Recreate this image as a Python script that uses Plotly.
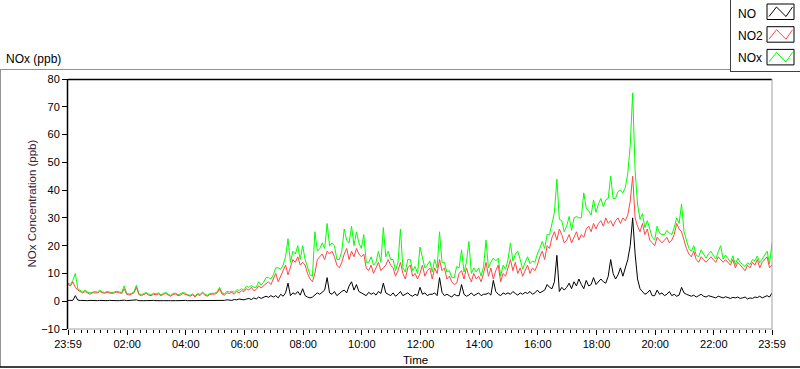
import plotly.graph_objects as go

# ---------------- data (5-minute readings, 23:59 -> 23:59) ----------------
no2 = [
    6, 5.5, 7, 5, 4, 3.5, 3, 3.5, 3, 2.5, 3, 3,
    3, 3.5, 3, 2.8, 3.2, 3, 2.8, 3, 3.3, 3, 2.8, 4.5,
    2.5, 2.2, 2.5, 3, 5, 2.4, 2, 2.5, 2.8, 2.2, 2, 2.5,
    2.3, 2.6, 2, 2.5, 2.8, 2.2, 1.8, 2.4, 2.6, 2, 2.2, 2.8,
    2.5, 2, 1.8, 2.3, 1.5, 2.5, 2, 3, 2.2, 1.8, 2.4, 2.6,
    2.5, 3, 4.5, 2.6, 2.2, 3, 2.8, 3.2, 2.5, 3.5, 3, 3.8,
    3.5, 4.5, 4, 5, 3.8, 4.2, 5.5, 4.8, 5.5, 6.5, 7, 6,
    8, 10, 7, 9, 11, 13, 9.5, 12, 15, 14, 16, 13,
    14, 13, 10, 8, 7, 10, 15, 16, 17, 15, 18, 17,
    18, 16, 13, 12, 14, 17, 19, 15, 18, 16, 19, 17,
    16, 17, 12, 11, 13, 10, 12, 14, 11, 12, 13, 15,
    13, 12, 9, 11, 14, 10, 8, 12, 13, 9, 10, 8,
    10, 13, 9, 11, 12, 8, 12, 10, 15, 11, 12, 8,
    9, 7, 6, 6.5, 10, 11, 8, 12, 9, 7, 10, 8,
    9, 7, 10, 14, 9, 12, 8, 11, 13, 7, 10, 9,
    12, 15, 11, 14, 10, 12, 9, 11, 13, 10, 12, 11,
    13, 16, 18, 15, 20, 19, 23, 25, 22, 26, 24, 21,
    22, 24, 21, 23, 25, 22, 24, 23, 26, 27, 25, 28,
    26, 28, 29, 27, 30, 28, 29, 27, 29, 30, 28, 30,
    29, 31, 36, 45, 30, 27, 25, 28, 24, 26, 22, 21,
    20, 23, 22, 21, 22, 23, 21, 22, 24, 28, 26, 25,
    22, 19, 17, 16, 18, 15, 14, 16, 15, 14, 15, 16,
    15, 14, 16, 15, 14, 15, 14, 13, 15, 12, 14, 13,
    12, 11, 13, 12, 14, 13, 15, 12, 14, 15, 16, 12,
    13,
]

no = [
    0.3, 0.4, 0.3, 2.0, 0.4, 0.3, 0.2, 0.3, 0.2, 0.3, 0.2, 0.3,
    0.2, 0.3, 0.2, 0.3, 0.2, 0.3, 0.2, 0.3, 0.2, 0.2, 0.3, 0.4,
    0.2, 0.3, 0.2, 0.3, 0.5, 0.2, 0.3, 0.2, 0.2, 0.3, 0.2, 0.3,
    0.2, 0.3, 0.2, 0.2, 0.3, 0.2, 0.2, 0.3, 0.2, 0.2, 0.3, 0.2,
    0.3, 0.2, 0.2, 0.3, 0.2, 0.2, 0.3, 0.2, 0.3, 0.2, 0.3, 0.2,
    0.3, 0.2, 0.4, 0.3, 0.3, 0.5, 0.4, 0.3, 0.6, 0.5, 0.8, 0.6,
    0.5, 0.8, 1.0, 0.6, 1.2, 0.8, 1.5, 1.0, 1.3, 1.8, 1.4, 2.0,
    1.5, 2.0, 1.2, 2.5, 1.8, 3.0, 6.5, 2.0, 3.0, 2.5, 3.5, 2.2,
    4.5, 2.0, 1.5, 1.2, 1.5, 2.2, 3.0, 2.5, 3.2, 4.0, 8.5, 3.0,
    2.5, 3.5, 2.0, 2.8, 3.5, 4.0, 3.0, 5.5, 7.0, 4.0, 6.0, 3.5,
    3.0, 2.5, 2.0, 3.2, 2.5, 3.0, 2.2, 3.5, 2.8, 6.5, 3.0, 2.5,
    2.0, 3.0, 1.8, 2.5, 3.5, 2.0, 2.5, 3.0, 2.2, 1.8, 2.5, 2.0,
    5.0, 2.5, 3.0, 2.0, 2.5, 2.5, 3.0, 2.0, 8.5, 3.2, 2.0, 2.5,
    2.0, 1.5, 2.5, 2.0, 2.0, 6.0, 2.5, 1.8, 2.2, 3.0, 2.0, 2.5,
    3.0, 2.0, 2.5, 2.5, 3.0, 2.2, 7.5, 3.5, 2.5, 2.0, 3.0, 2.5,
    3.0, 2.5, 3.5, 2.8, 2.2, 3.0, 2.5, 3.2, 2.8, 3.5, 2.5, 3.0,
    4.0, 3.0, 3.5, 4.0, 6.0, 5.0, 4.5, 7.0, 16.5, 3.5, 5.0, 4.0,
    5.0, 6.5, 4.5, 7.0, 5.5, 8.0, 6.0, 4.5, 7.5, 5.5, 6.0, 8.5,
    6.0, 7.0, 8.0, 7.0, 6.5, 9.0, 15.0, 10.0, 8.0, 9.5, 12.0, 9.0,
    12.0, 15.0, 20.0, 30.0, 17.0, 8.0, 4.5, 3.5, 2.5, 3.0, 4.0, 2.0,
    2.0, 4.0, 2.5, 3.0, 2.0, 2.5, 3.5, 2.0, 2.5, 1.8, 2.2, 5.0,
    3.0, 2.5, 2.0, 1.8, 2.2, 1.5, 2.0, 2.5, 1.8, 1.5, 2.0, 1.8,
    1.5, 1.2, 1.8, 1.5, 1.2, 1.6, 1.3, 1.0, 1.4, 1.2, 1.5, 1.0,
    1.2, 1.5, 0.8, 1.2, 1.0, 1.5, 1.3, 1.8, 1.2, 1.6, 2.0, 1.5,
    3.0,
]

nox = [
    6.5, 6, 7.5, 10, 4.5, 4, 3.3, 4, 3.3, 3, 3.3, 3.5,
    3.3, 4, 3.3, 3.2, 3.5, 3.4, 3.1, 3.4, 3.6, 3.3, 3.2, 5.5,
    2.8, 2.6, 2.8, 3.4, 5.8, 2.7, 2.4, 2.8, 3.1, 2.6, 2.3, 2.9,
    2.6, 3, 2.3, 2.8, 3.2, 2.5, 2.1, 2.8, 2.9, 2.3, 2.6, 3.1,
    2.9, 2.3, 2.1, 2.7, 1.8, 2.8, 2.4, 3.3, 2.6, 2.1, 2.8, 2.9,
    2.9, 3.3, 5, 3, 2.6, 3.6, 3.3, 3.6, 3.2, 4.1, 3.9, 4.5,
    4, 5.4, 5, 5.7, 5, 5, 7, 5.8, 6.8, 8.5, 8.5, 8,
    9.5, 12, 12, 11.5, 13, 16, 22.5, 14, 18, 17, 20, 15,
    20, 15, 12, 9.5, 9, 25, 18, 19, 21, 19, 28, 20,
    21, 20, 15, 15, 18, 26, 22, 21, 27, 20, 25, 21,
    19, 24, 14, 14, 16, 13, 14, 18, 14, 26.5, 16, 18,
    15, 15, 11, 14, 26, 12, 10.5, 15, 15, 11, 12.5, 10,
    19.5, 15.5, 12, 13, 14.5, 10.5, 15, 12, 25, 14, 14, 10.5,
    11, 8.5, 8.5, 12.5, 12, 18.5, 10.5, 14, 21.5, 10, 12, 10.5,
    12, 9, 12.5, 22, 12, 14, 15.5, 14.5, 15.5, 9, 13, 11.5,
    15, 21, 14.5, 17, 18, 15, 11.5, 14, 16, 13.5, 14.5, 14,
    17, 19, 21.5, 19, 24, 24, 27.5, 32, 44, 29.5, 29, 25,
    27, 30.5, 25.5, 30, 30.5, 30, 30, 39, 33.5, 32.5, 31, 36.5,
    32, 35, 37, 34, 36.5, 37, 45, 37, 37, 39.5, 40, 39,
    41, 46, 56, 75, 47, 35, 29.5, 31.5, 26.5, 29, 26, 23,
    22, 27, 24.5, 24, 24, 25.5, 24.5, 24, 26.5, 30, 28, 35,
    25, 21.5, 19, 18, 20, 16.5, 16, 18.5, 17, 15.5, 17, 18,
    16.5, 15.2, 17.8, 20, 15.2, 16.6, 15.3, 14, 16.4, 13.2, 15.5, 14,
    13.2, 12.5, 13.8, 13.2, 15, 14.5, 16.3, 13.8, 15.2, 16.6, 18, 13.5,
    21,
]

# time axis in hours (first sample at 23:59 of the previous day)
time_h = [(-1 + 5 * i) / 60 for i in range(len(no2))]

tick_vals = [-1 / 60, 2, 4, 6, 8, 10, 12, 14, 16, 18, 20, 22, 1439 / 60]
tick_text = ["23:59", "02:00", "04:00", "06:00", "08:00", "10:00", "12:00",
             "14:00", "16:00", "18:00", "20:00", "22:00", "23:59"]

series_names = ["NO", "NO2", "NOx"]
series_colors = ["#000000", "#ff4545", "#00ff00"]

FONT = "Liberation Sans, Arial, sans-serif"

# ---------------- figure ----------------
fig = go.Figure()
fig.add_trace(go.Scatter(x=time_h, y=nox, mode="lines", name="NOx",
                         line=dict(color=series_colors[2], width=1)))
fig.add_trace(go.Scatter(x=time_h, y=no2, mode="lines", name="NO2",
                         line=dict(color=series_colors[1], width=1)))
fig.add_trace(go.Scatter(x=time_h, y=no, mode="lines", name="NO",
                         line=dict(color=series_colors[0], width=1)))

L, R, T, B = 68, 772, 79, 329


def px(x):
    return (x - L) / (R - L)


def py(y):
    return (B - y) / (B - T)


shapes = []


def hline(x0, x1, y, color, w=1):
    shapes.append(dict(type="line", xref="paper", yref="paper",
                       x0=px(x0), x1=px(x1), y0=py(y), y1=py(y),
                       line=dict(color=color, width=w), layer="above"))


def vline(x, y0, y1, color, w=1):
    shapes.append(dict(type="line", xref="paper", yref="paper",
                       x0=px(x), x1=px(x), y0=py(y0), y1=py(y1),
                       line=dict(color=color, width=w), layer="above"))


# plot-area frame (dark top/left, light bottom/right)
vline(67.5, T, B, "#000000", 1.5)
hline(L, R, 79.5, "#000000", 1.5)
vline(772, T, B + 0.5, "#a0a0a0", 1)
hline(L, R, 329, "#a0a0a0", 1)

# outer panel frame
hline(0, 730, 69.5, "#939393", 1)
vline(0.5, 69, 367, "#939393", 1)
hline(0, 800, 367, "#000000", 1.5)

# legend box
vline(730.5, 0, 71.5, "#404040", 1)
hline(730, 800, 71.5, "#404040", 1)

annotations = []
leg_y = [13.5, 35.5, 58]
for k, (name, col) in enumerate(zip(series_names, series_colors)):
    y0 = 4 + 22.7 * k
    shapes.append(dict(type="rect", xref="paper", yref="paper",
                       x0=px(767), x1=px(794), y0=py(y0), y1=py(y0 + 15.5),
                       line=dict(color="#000000", width=1),
                       fillcolor="#ffffff", layer="above"))
    pts = [(769, y0 + 12.5), (776.5, y0 + 3), (786, y0 + 12.5), (792.5, y0 + 3)]
    path = "M " + " L ".join(f"{px(a):.5f},{py(b):.5f}" for a, b in pts)
    shapes.append(dict(type="path", xref="paper", yref="paper", path=path,
                       line=dict(color=col, width=1), layer="above"))
    annotations.append(dict(text=name, xref="paper", yref="paper",
                            x=px(736), y=py(leg_y[k]), xanchor="left",
                            yanchor="middle", showarrow=False,
                            font=dict(family=FONT, size=12, color="#000000")))

annotations.append(dict(text="NOx (ppb)", xref="paper", yref="paper",
                        x=px(4), y=py(59.5), xanchor="left", yanchor="middle",
                        showarrow=False,
                        font=dict(family=FONT, size=12, color="#000000")))
annotations.append(dict(text="NOx Concentration (ppb)", xref="paper",
                        yref="paper", x=px(31.5), y=py(204), textangle=-90,
                        xanchor="center", yanchor="middle", showarrow=False,
                        font=dict(family=FONT, size=11.5, color="#3a1f36")))
annotations.append(dict(text="Time", xref="paper", yref="paper",
                        x=px(415), y=py(360), xanchor="center",
                        yanchor="middle", showarrow=False,
                        font=dict(family=FONT, size=11.5, color="#000000")))

minor_vals = []
for m in range(12):
    a, b = tick_vals[m], tick_vals[m + 1]
    for s in range(1, 9):
        minor_vals.append(a + (b - a) * s / 9)

fig.update_layout(
    width=800, height=369,
    margin=dict(l=L, r=800 - R, t=T, b=369 - B, pad=0),
    paper_bgcolor="#ffffff", plot_bgcolor="#ffffff",
    showlegend=False, hovermode=False,
    shapes=shapes, annotations=annotations,
    font=dict(family=FONT, size=11, color="#000000"),
    xaxis=dict(range=[tick_vals[0], tick_vals[-1]], tickmode="array",
               tickvals=tick_vals, ticktext=tick_text, ticks="outside",
               ticklen=5, tickwidth=1, tickcolor="#000000",
               showgrid=False, zeroline=False, showline=False,
               tickfont=dict(family=FONT, size=11, color="#000000"),
               minor=dict(tickmode="array", tickvals=minor_vals,
                          ticks="outside", ticklen=3, tickwidth=1,
                          tickcolor="#000000", showgrid=False)),
    yaxis=dict(range=[-10, 80], tickmode="linear", tick0=-10, dtick=10,
               ticks="outside", ticklen=5, tickwidth=1, tickcolor="#000000",
               showgrid=False, zeroline=False, showline=False,
               tickfont=dict(family=FONT, size=11, color="#000000")),
)

fig.write_html("out.html", config={"displayModeBar": False},
               post_script="document.body.style.margin='0';"
                           "document.body.style.overflow='hidden';")
